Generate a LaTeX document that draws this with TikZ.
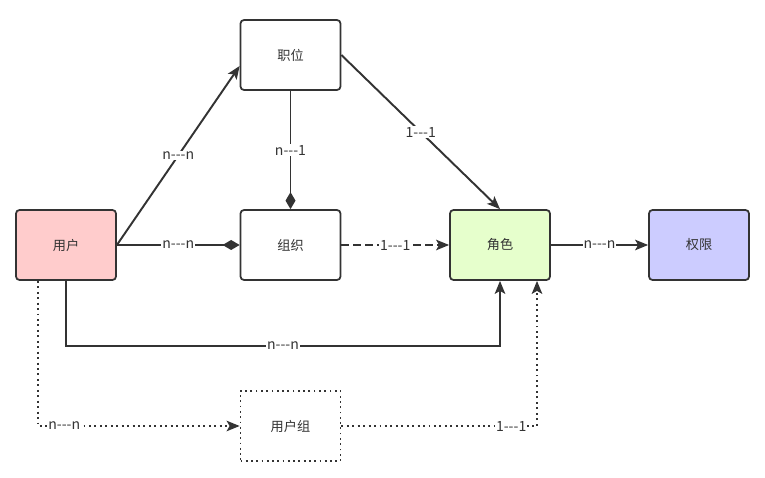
\documentclass[tikz,border=0pt]{standalone}
\usepackage{fontspec}
\newfontfamily\cjk{Noto Sans CJK SC}
\usepackage{tikz}
\usetikzlibrary{arrows.meta, positioning}

\definecolor{borde}{HTML}{333333}
\definecolor{rosa}{HTML}{FFCCCC}
\definecolor{verde}{HTML}{E6FFCC}
\definecolor{lila}{HTML}{CCCCFF}

\begin{document}
\begin{tikzpicture}[
    entidad/.style = {rectangle, rounded corners=2pt, draw=borde,
                      fill=white, line width=1.0pt, minimum width=2.0cm,
                      minimum height=1.4cm, font=\cjk\fontsize{7.5}{9}\selectfont,
                      text=borde, inner sep=2pt},
    grupo/.style   = {entidad, rounded corners=0pt, dotted},
    card/.style    = {font=\cjk\fontsize{8}{9}\selectfont, text=borde,
                      fill=white, inner sep=0.6pt},
    flecha/.style  = {-{Stealth[length=2.6mm,width=2.1mm,inset=0.6mm]},
                      draw=borde, line width=1.1pt},
    rombo/.style   = {-{Diamond[length=3.4mm,width=2.0mm]}, draw=borde,
                      line width=1.1pt},
    punteada/.style= {flecha, dotted},
    rayada/.style  = {flecha, dash pattern=on 1.6mm off 0.8mm},
  ]
  \useasboundingbox (0,0) rectangle (15.30,-9.56);

  %-------------------------------------------------- entidades
  \node[entidad]           (P) at ( 5.81,-1.10) {职位};
  \node[entidad, fill=rosa](U) at ( 1.32,-4.90) {用户};
  \node[entidad]           (O) at ( 5.81,-4.90) {组织};
  \node[entidad, fill=verde](R) at (10.00,-4.90) {角色};
  \node[entidad, fill=lila](Q) at (13.98,-4.90) {权限};
  \node[grupo]             (G) at ( 5.81,-8.52) {用户组};

  %-------------------------------------------------- usuario
  \draw[flecha] (U.east) -- node[card] {n---n} ([yshift=-0.22cm]P.west);
  \draw[rombo]  (U.east) -- node[card] {n---n} (O.west);
  \draw[flecha] (U.south) -- ++(0,-1.30)
                -| node[card, pos=0.25] {n---n} (R.south);

  %-------------------------------------------------- puesto / org
  \draw[rombo]  (P.south) -- node[card] {n---1} (O.north);
  \draw[flecha] (P.east) -- node[card] {1---1} (R.north);
  \draw[rayada] (O.east) -- node[card] {1---1} (R.west);
  \draw[flecha] (R.east) -- node[card] {n---n} (Q.west);

  %-------------------------------------------------- grupo de usuarios
  \draw[punteada] ([xshift=-0.56cm]U.south)
                  |- node[card, pos=0.565] {n---n} (G.west);
  \draw[punteada] (G.east)
                  -| node[card, pos=0.434] {1---1} ([xshift=0.74cm]R.south);
\end{tikzpicture}
\end{document}
